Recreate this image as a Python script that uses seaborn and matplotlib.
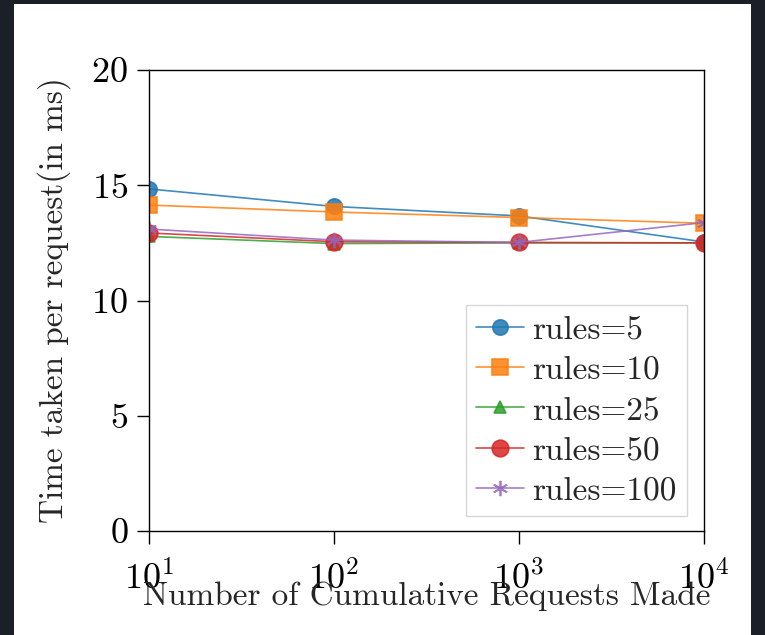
import matplotlib
matplotlib.use("Agg")
import matplotlib.pyplot as plt
import matplotlib.patches as mpatches
from matplotlib.ticker import NullLocator, FixedLocator
import seaborn as sns
import pandas as pd

requests = [10, 100, 1000, 10000]
rules_5 = [14.84, 14.08, 13.67, 12.54]
rules_10 = [14.14, 13.84, 13.60, 13.35]
rules_25 = [12.78, 12.47, 12.50, 12.50]
rules_50 = [12.93, 12.55, 12.52, 12.50]
rules_100 = [13.10, 12.62, 12.52, 13.38]
labels = ["rules=5", "rules=10", "rules=25", "rules=50", "rules=100"]
series = [rules_5, rules_10, rules_25, rules_50, rules_100]
markers = ["o", "s", "^", "o", (6, 2, 0)]
marker_sizes = [11, 11, 9, 12, 11]
xlabel = "Number of Cumulative Requests Made"
ylabel = "Time taken per request(in ms)"
yticks = [0, 5, 10, 15, 20]

sns.set_style("ticks")
plt.rcParams["font.family"] = "serif"
plt.rcParams["font.serif"] = ["cmr10", "DejaVu Serif"]
plt.rcParams["mathtext.fontset"] = "cm"
plt.rcParams["axes.formatter.use_mathtext"] = True
plt.rcParams["axes.unicode_minus"] = False

palette = sns.color_palette("tab10", 5)

fig = plt.figure(figsize=(7.65, 6.35), dpi=100, facecolor="#1b1f27")
fig.patches.append(mpatches.Rectangle((14 / 765, 0), (751 - 14) / 765, (635 - 4) / 635,
                                      transform=fig.transFigure, facecolor="white",
                                      edgecolor="none", zorder=-10))
ax = fig.add_axes([149 / 765, 104 / 635, 555 / 765, 461 / 635])
ax.set_facecolor("white")

for lab, ys, mk, ms, col in zip(labels, series, markers, marker_sizes, palette):
    df = pd.DataFrame({"x": requests, "y": ys})
    sns.lineplot(data=df, x="x", y="y", ax=ax, label=lab, color=col, marker=mk,
                 markersize=ms, markeredgecolor=col, markerfacecolor=col,
                 markeredgewidth=1.2 if mk != (6, 2, 0) else 1.3,
                 linewidth=1.2, alpha=0.85, legend=False)

ax.set_xscale("log")
ax.set_xlim(10, 10000)
ax.set_ylim(0, 20)
ax.yaxis.set_major_locator(FixedLocator(yticks))
ax.xaxis.set_minor_locator(NullLocator())
ax.tick_params(axis="both", which="major", direction="out", length=9, width=1,
               labelsize=26, colors="black", pad=6)
ax.tick_params(axis="x", pad=12)
for sp in ax.spines.values():
    sp.set_visible(True)
    sp.set_color("black")
    sp.set_linewidth(1.0)

ax.set_xlabel(xlabel, fontsize=24, labelpad=-10)
ax.set_ylabel(ylabel, fontsize=24, labelpad=15)

handles, labs = ax.get_legend_handles_labels()
leg = ax.legend(handles, labs, loc="lower right", bbox_to_anchor=(0.969, 0.033),
                borderaxespad=0, fontsize=24, frameon=True, fancybox=False,
                handlelength=1.45, handletextpad=0.25, labelspacing=0.33,
                borderpad=0.3)
leg.get_frame().set_edgecolor("#cccccc")
leg.get_frame().set_linewidth(1.0)

fig.savefig("out.png", dpi=100, facecolor=fig.get_facecolor())
